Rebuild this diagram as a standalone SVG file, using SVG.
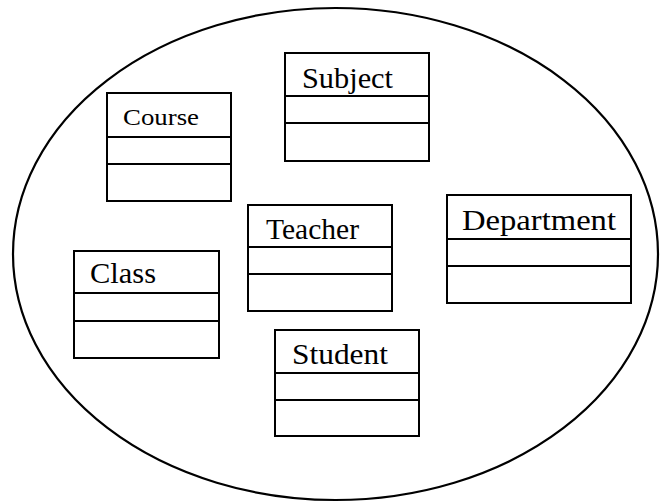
<svg xmlns="http://www.w3.org/2000/svg" width="663" height="502" viewBox="0 0 663 502">
<style>
.b{fill:#fff;stroke:#000;stroke-width:2}
.l{stroke:#000;stroke-width:2}
.t{font-family:"Liberation Serif","Times New Roman",serif;font-size:30px;fill:#000}
</style>
<rect width="663" height="502" fill="#fff"/>
<ellipse id="boundary" cx="335.5" cy="254" rx="322.5" ry="246" fill="none" stroke="#000" stroke-width="2.2"/>
<g id="connectors"></g>
<g id="course">
<rect class="b" x="107" y="93" width="124" height="108"/>
<line class="l" x1="107" y1="137" x2="231" y2="137"/>
<line class="l" x1="107" y1="164" x2="231" y2="164"/>
<text class="t" x="123" y="125" style="font-size:24px" textLength="76" lengthAdjust="spacingAndGlyphs">Course</text>
</g>
<g id="subject">
<rect class="b" x="285" y="53" width="144" height="108"/>
<line class="l" x1="285" y1="96" x2="429" y2="96"/>
<line class="l" x1="285" y1="123" x2="429" y2="123"/>
<text class="t" x="302" y="88" textLength="91" lengthAdjust="spacingAndGlyphs">Subject</text>
</g>
<g id="teacher">
<rect class="b" x="248" y="205" width="144" height="106"/>
<line class="l" x1="248" y1="247" x2="392" y2="247"/>
<line class="l" x1="248" y1="274" x2="392" y2="274"/>
<text class="t" x="266" y="239" textLength="93" lengthAdjust="spacingAndGlyphs">Teacher</text>
</g>
<g id="department">
<rect class="b" x="447" y="195" width="184" height="108"/>
<line class="l" x1="447" y1="239" x2="631" y2="239"/>
<line class="l" x1="447" y1="266" x2="631" y2="266"/>
<text class="t" x="462" y="230" textLength="154" lengthAdjust="spacingAndGlyphs">Department</text>
</g>
<g id="class">
<rect class="b" x="74" y="251" width="145" height="107"/>
<line class="l" x1="74" y1="293" x2="219" y2="293"/>
<line class="l" x1="74" y1="321" x2="219" y2="321"/>
<text class="t" x="90" y="283" textLength="66" lengthAdjust="spacingAndGlyphs">Class</text>
</g>
<g id="student">
<rect class="b" x="275" y="330" width="144" height="106"/>
<line class="l" x1="275" y1="373" x2="419" y2="373"/>
<line class="l" x1="275" y1="400" x2="419" y2="400"/>
<text class="t" x="292" y="364" textLength="96" lengthAdjust="spacingAndGlyphs">Student</text>
</g>
</svg>
